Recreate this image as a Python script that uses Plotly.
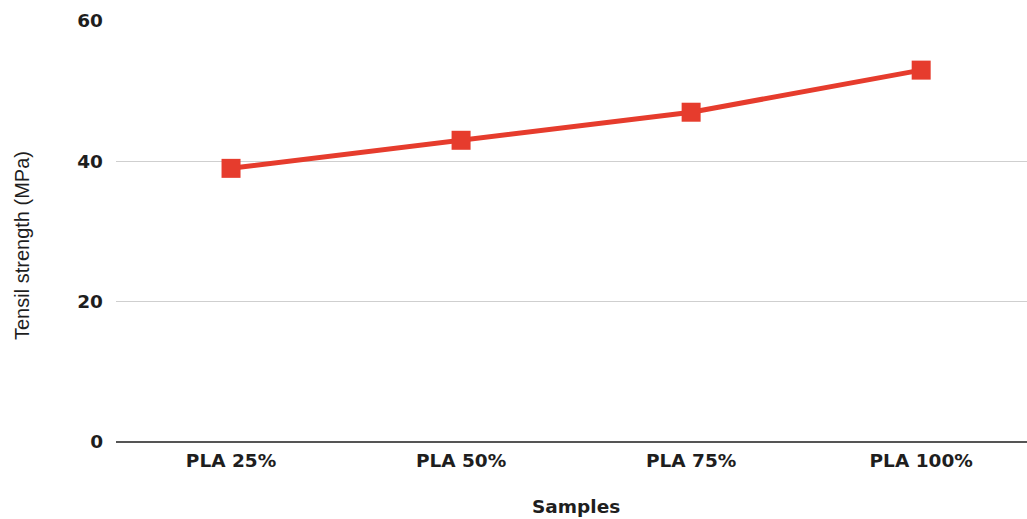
import plotly.graph_objects as go

samples = ["PLA 25%", "PLA 50%", "PLA 75%", "PLA 100%"]
tensile_strength = [39, 43, 47, 53]
y_ticks = [0, 20, 40, 60]

RED = "#e63c2d"
BOLD_FONT = "DejaVu Sans, Arial, sans-serif"
TITLE_FONT = "Liberation Sans, Arial, sans-serif"
TEXT = "#1e1e1e"

PLOT_TOP, PLOT_BOTTOM, PLOT_LEFT = 21, 442, 116

fig = go.Figure(
    go.Scatter(
        x=list(range(len(samples))),
        y=tensile_strength,
        mode="lines+markers",
        line=dict(color=RED, width=5),
        marker=dict(symbol="square", size=19, color=RED),
        showlegend=False,
    )
)

fig.update_layout(
    width=1027,
    height=519,
    margin=dict(l=PLOT_LEFT, r=0, t=PLOT_TOP, b=519 - PLOT_BOTTOM),
    paper_bgcolor="white",
    plot_bgcolor="white",
    font=dict(family=TITLE_FONT, color=TEXT),
)

fig.update_xaxes(
    tickmode="array",
    tickvals=list(range(len(samples))),
    ticktext=[f"<b>{s}</b>" for s in samples],
    tickfont=dict(family=BOLD_FONT, size=18.5, color=TEXT),
    range=[-0.5, 3.46],
    showgrid=False,
    zeroline=False,
    showline=False,
    ticks="",
    ticklabelstandoff=5,
    automargin=False,
)

fig.update_yaxes(
    range=[0, 60],
    tickmode="array",
    tickvals=y_ticks,
    ticktext=[f"<b>{v}</b>" for v in y_ticks],
    tickfont=dict(family=BOLD_FONT, size=18.5, color=TEXT),
    showgrid=True,
    gridcolor="#cfcfcf",
    gridwidth=1,
    zeroline=True,
    zerolinecolor="#555555",
    zerolinewidth=2,
    showline=False,
    ticks="",
    ticklabelstandoff=12,
    automargin=False,
)

plot_h = PLOT_BOTTOM - PLOT_TOP

# Axis titles
fig.add_annotation(
    text="<b>Samples</b>",
    xref="paper", yref="paper",
    x=0.5, y=0,
    xshift=4, yshift=-(519 - PLOT_BOTTOM),
    xanchor="center", yanchor="bottom",
    showarrow=False,
    font=dict(family=BOLD_FONT, size=18.5, color=TEXT),
)
fig.add_annotation(
    text="Tensil strength (MPa)",
    xref="paper", yref="paper",
    x=0, y=(PLOT_BOTTOM - 246) / plot_h,
    xshift=22 - PLOT_LEFT,
    xanchor="center", yanchor="middle",
    textangle=-90,
    showarrow=False,
    font=dict(family=TITLE_FONT, size=20, color=TEXT),
)

fig.write_html("out.html")
